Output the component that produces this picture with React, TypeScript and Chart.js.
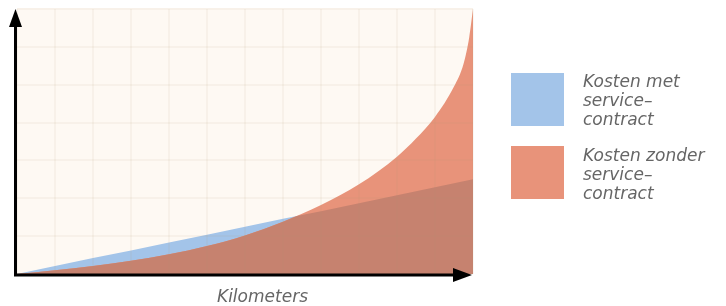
import React, { useEffect, useRef } from "react";
import { Chart, registerables } from "chart.js";

Chart.register(...registerables);

// Kilometers (grid units 0..12)
const blueX: number[] = [0, 1, 2, 3, 4, 5, 6, 7, 8, 9, 10, 11, 12];
const blueY: number[] = [0, 0.21, 0.42, 0.62, 0.83, 1.04, 1.25, 1.46, 1.66, 1.87, 2.08, 2.29, 2.5];

const orangeX: number[] = [0, 1, 2, 3, 4, 5, 6, 7, 8, 9, 10, 10.5, 11, 11.5, 11.75, 11.9, 12];
const orangeY: number[] = [0, 0.1, 0.21, 0.35, 0.52, 0.74, 1.02, 1.38, 1.82, 2.37, 3.1, 3.58, 4.15, 4.95, 5.55, 6.25, 7.0];

const legendLabels: string[][] = [
  ["Kosten met", "service\u2013", "contract"],
  ["Kosten zonder", "service\u2013", "contract"],
];
const legendColors: string[] = ["#A3C4E9", "#E8937A"];
const axisTitle = "Kilometers";

const BLUE = "#A3C4E9";
const ORANGE = "#E8937A";
const BROWN = "#C6826F";
const GRID = "rgba(180,150,120,0.08)";

export default function App() {
  const ref = useRef<HTMLCanvasElement | null>(null);

  useEffect(() => {
    document.body.style.margin = "0";
    const canvas = ref.current;
    if (!canvas) return;

    const bluePts = blueX.map((x, i) => ({ x, y: blueY[i] }));
    const orangePts = orangeX.map((x, i) => ({ x, y: orangeY[i] }));

    const bgPlugin = {
      id: "bg",
      beforeDraw(chart: any) {
        const { ctx, chartArea } = chart;
        ctx.save();
        ctx.fillStyle = "#FEF9F3";
        ctx.fillRect(chartArea.left, chartArea.top - 1, chartArea.right - chartArea.left, chartArea.bottom - chartArea.top + 1);
        ctx.restore();
      },
      afterDatasetsDraw(chart: any) {
        // overlap of the two areas, drawn in brown
        const { ctx, chartArea } = chart;
        const blueLine = chart.getDatasetMeta(0).dataset;
        const orangeLine = chart.getDatasetMeta(1).dataset;
        if (!blueLine || !orangeLine) return;
        const base = chart.scales.y.getPixelForValue(0);
        ctx.save();
        ctx.beginPath();
        ctx.rect(chartArea.left, chartArea.top, chartArea.right - chartArea.left, chartArea.bottom - chartArea.top);
        ctx.clip();
        ctx.beginPath();
        orangeLine.path(ctx);
        const op = orangeLine.points;
        ctx.lineTo(op[op.length - 1].x, base);
        ctx.lineTo(op[0].x, base);
        ctx.closePath();
        ctx.clip();
        ctx.beginPath();
        blueLine.path(ctx);
        const bp = blueLine.points;
        ctx.lineTo(bp[bp.length - 1].x, base);
        ctx.lineTo(bp[0].x, base);
        ctx.closePath();
        ctx.fillStyle = BROWN;
        ctx.fill();
        ctx.restore();
      },
      afterDraw(chart: any) {
        const { ctx, chartArea } = chart;
        const ax = chartArea.left - 1.5;
        const ay = chartArea.bottom + 1;
        ctx.save();
        ctx.strokeStyle = "#000";
        ctx.fillStyle = "#000";
        ctx.lineWidth = 3;
        ctx.beginPath();
        ctx.moveTo(ax, 25);
        ctx.lineTo(ax, ay + 1.5);
        ctx.moveTo(ax - 1.5, ay);
        ctx.lineTo(chartArea.right - 16, ay);
        ctx.stroke();
        ctx.beginPath();
        ctx.moveTo(ax, chartArea.top);
        ctx.lineTo(ax + 6.5, chartArea.top + 18);
        ctx.lineTo(ax - 6.5, chartArea.top + 18);
        ctx.closePath();
        ctx.fill();
        ctx.beginPath();
        ctx.moveTo(chartArea.right - 1, ay);
        ctx.lineTo(chartArea.right - 20, ay - 7);
        ctx.lineTo(chartArea.right - 20, ay + 7);
        ctx.closePath();
        ctx.fill();
        ctx.restore();
      },
    };

    const chart = new Chart(canvas, {
      type: "line",
      data: {
        datasets: [
          {
            label: "Kosten met servicecontract",
            data: bluePts,
            order: 3,
            borderWidth: 0,
            borderColor: "rgba(0,0,0,0)",
            backgroundColor: BLUE,
            fill: "origin",
            pointRadius: 0,
            tension: 0,
          },
          {
            label: "Kosten zonder servicecontract",
            data: orangePts,
            order: 2,
            borderWidth: 0,
            borderColor: "rgba(0,0,0,0)",
            backgroundColor: ORANGE,
            fill: "origin",
            pointRadius: 0,
            cubicInterpolationMode: "monotone",
          },
        ],
      },
      options: {
        animation: false,
        responsive: false,
        maintainAspectRatio: false,
        layout: { padding: { left: 17, right: 253, top: 9, bottom: 32 } },
        plugins: { legend: { display: false }, tooltip: { enabled: false } },
        scales: {
          x: {
            type: "linear",
            min: 0,
            max: 12,
            ticks: { display: false, stepSize: 1 },
            border: { display: false },
            grid: { color: GRID, lineWidth: 2, drawTicks: false, z: 1 },
          },
          y: {
            type: "linear",
            min: 0,
            max: 7,
            ticks: { display: false, stepSize: 1 },
            border: { display: false },
            grid: { color: GRID, lineWidth: 2, drawTicks: false, z: 1 },
          },
        },
      },
      plugins: [bgPlugin],
    } as any);

    return () => chart.destroy();
  }, []);

  const textStyle: React.CSSProperties = {
    position: "absolute",
    left: 583,
    fontFamily: "'DejaVu Sans', sans-serif",
    fontStyle: "italic",
    fontSize: 17,
    lineHeight: "19px",
    color: "#666666",
    whiteSpace: "nowrap",
  };

  return (
    <div style={{ position: "absolute", left: 0, top: 0, width: 726, height: 306, background: "#fff" }}>
      <canvas ref={ref} width={726} height={306} style={{ position: "absolute", left: 0, top: 0 }} />
      {legendLabels.map((lines, i) => (
        <React.Fragment key={i}>
          <div
            style={{
              position: "absolute",
              left: 511,
              top: i === 0 ? 73 : 146,
              width: 53,
              height: 53,
              background: legendColors[i],
            }}
          />
          <div style={{ ...textStyle, top: i === 0 ? 72 : 146 }}>
            {lines.map((l, j) => (
              <div key={j}>{l}</div>
            ))}
          </div>
        </React.Fragment>
      ))}
      <div style={{ ...textStyle, left: 217, top: 286, lineHeight: "20px" }}>{axisTitle}</div>
    </div>
  );
}
